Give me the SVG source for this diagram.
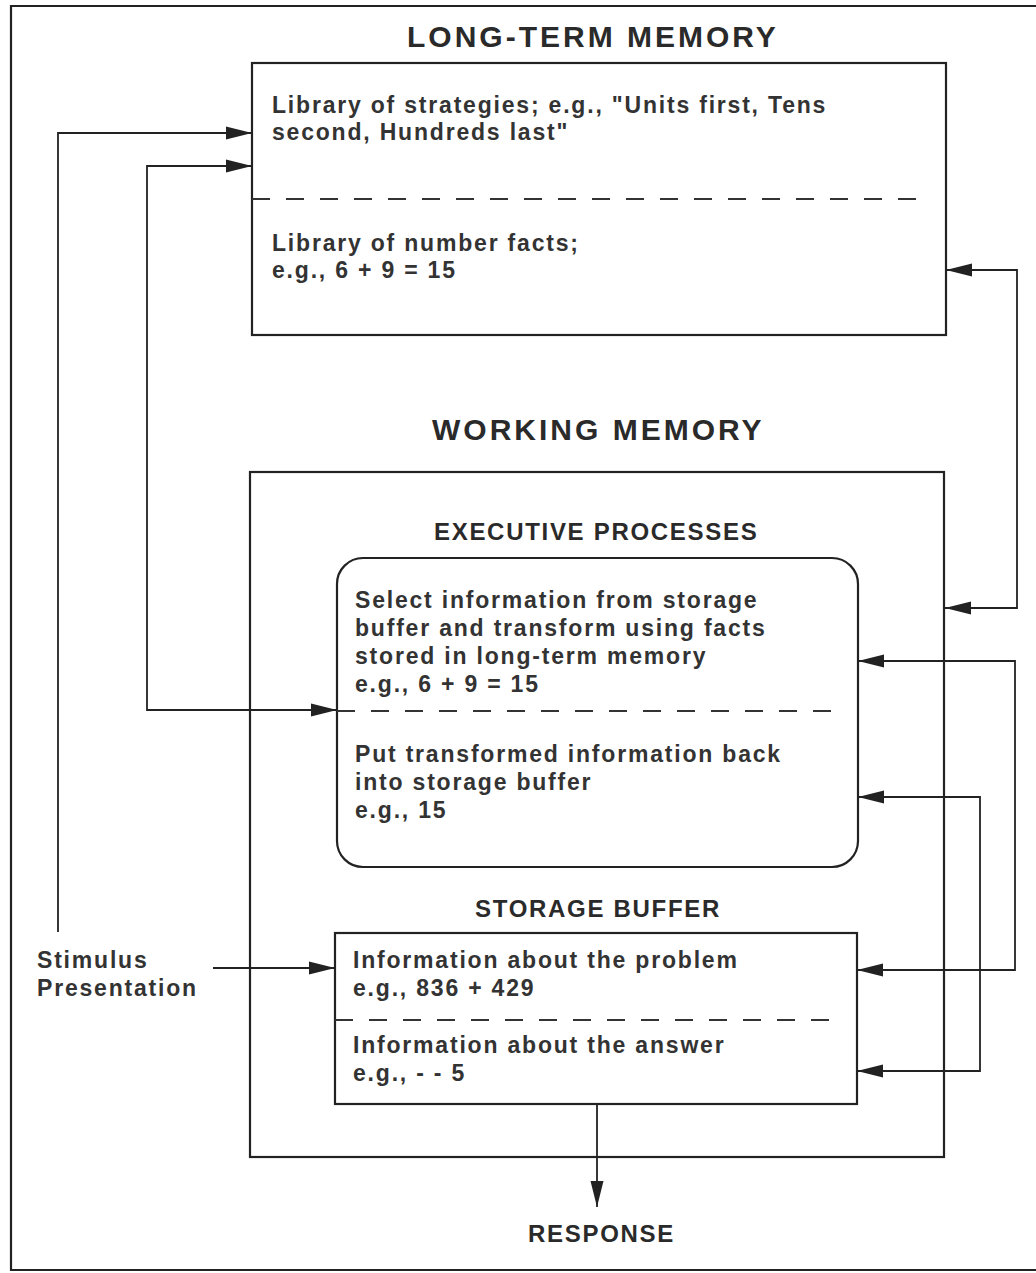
<svg xmlns="http://www.w3.org/2000/svg" width="1036" height="1273" viewBox="0 0 1036 1273">
<style>
.bg{fill:#fff}
.box{fill:none;stroke:#222;stroke-width:2.2}
.dash{fill:none;stroke:#333;stroke-width:2;stroke-dasharray:18 16}
.con{fill:none;stroke:#222;stroke-width:1.8}
.title{font-family:"Liberation Sans",Arial,sans-serif;font-weight:bold;font-size:30px;letter-spacing:3px;fill:#2a2a2a}
.sub{font-family:"Liberation Sans",Arial,sans-serif;font-weight:bold;font-size:24px;letter-spacing:1.7px;fill:#2a2a2a}
.t{font-family:"Liberation Sans",Arial,sans-serif;font-weight:bold;font-size:23px;letter-spacing:1.8px;fill:#333}
</style>
<defs>
<marker id="arr" markerUnits="userSpaceOnUse" markerWidth="28" markerHeight="14" refX="26" refY="7" orient="auto-start-reverse">
<path d="M0,0.5 L26,7 L0,13.5 Z" fill="#222"/>
</marker>
</defs>
<rect class="bg" x="0" y="0" width="1036" height="1273"/>
<path id="frame" class="box" d="M1036,6 H11 V1270 H1036"/>

<g id="ltm">
<text class="title" x="407" y="47">LONG-TERM MEMORY</text>
<rect class="box" x="252" y="63" width="694" height="272"/>
<line class="dash" x1="252" y1="199" x2="932" y2="199"/>
<text class="t" x="272" y="113">Library of strategies; e.g., "Units first, Tens</text>
<text class="t" x="272" y="140">second, Hundreds last"</text>
<text class="t" x="272" y="251">Library of number facts;</text>
<text class="t" x="272" y="278">e.g., 6 + 9 = 15</text>
</g>

<g id="wm">
<text class="title" x="432" y="440">WORKING MEMORY</text>
<rect class="box" x="250" y="472" width="694" height="685"/>
</g>

<g id="exec">
<text class="sub" x="434" y="540">EXECUTIVE PROCESSES</text>
<rect class="box" x="337" y="558" width="521" height="309" rx="26"/>
<line class="dash" x1="337" y1="711" x2="842" y2="711"/>
<text class="t" x="355" y="608">Select information from storage</text>
<text class="t" x="355" y="636">buffer and transform using facts</text>
<text class="t" x="355" y="664">stored in long-term memory</text>
<text class="t" x="355" y="692">e.g., 6 + 9 = 15</text>
<text class="t" x="355" y="762">Put transformed information back</text>
<text class="t" x="355" y="790">into storage buffer</text>
<text class="t" x="355" y="818">e.g., 15</text>
</g>

<g id="storage">
<text class="sub" x="475" y="917">STORAGE BUFFER</text>
<rect class="box" x="335" y="933" width="522" height="171"/>
<line class="dash" x1="335" y1="1020" x2="842" y2="1020"/>
<text class="t" x="353" y="968">Information about the problem</text>
<text class="t" x="353" y="996">e.g., 836 + 429</text>
<text class="t" x="353" y="1053">Information about the answer</text>
<text class="t" x="353" y="1081">e.g., - - 5</text>
</g>

<g id="stimulus">
<text class="t" x="37" y="968">Stimulus</text>
<text class="t" x="37" y="996">Presentation</text>
</g>

<g id="response">
<text class="sub" x="528" y="1242">RESPONSE</text>
</g>

<g id="connectors">
<path class="con" d="M58,932 V133 H252" marker-end="url(#arr)"/>
<path class="con" d="M337,710 H147 V166 H252" marker-start="url(#arr)" marker-end="url(#arr)"/>
<path class="con" d="M945,608 H1017 V270 H946" marker-start="url(#arr)" marker-end="url(#arr)"/>
<path class="con" d="M857,970 H1015 V661 H858" marker-start="url(#arr)" marker-end="url(#arr)"/>
<path class="con" d="M857,1071 H980 V797 H858" marker-start="url(#arr)" marker-end="url(#arr)"/>
<path class="con" d="M213,968 H335" marker-end="url(#arr)"/>
<path class="con" d="M597,1104 V1207" marker-end="url(#arr)"/>
</g>
</svg>
